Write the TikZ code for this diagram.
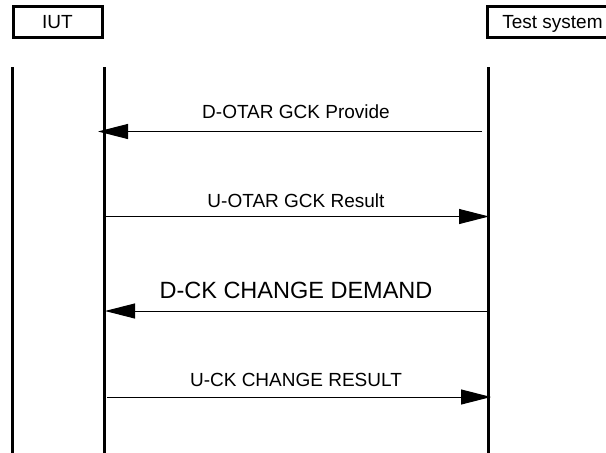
\documentclass[tikz,border=0pt]{standalone}
\usepackage{fontspec}
\setmainfont{Liberation Sans}
\usetikzlibrary{arrows.meta}
\begin{document}
\begin{tikzpicture}[x=1pt,y=-1pt,
  entity/.style={draw, line width=3pt, inner sep=0pt, minimum height=31pt,
    text height=13.6pt, text depth=0pt, font=\fontsize{19}{22}\selectfont},
  lifeline/.style={line width=3pt},
  msg/.style={-{Triangle[length=30pt,width=15pt]}, line width=1pt},
  label/.style={anchor=base, font=\fontsize{19}{22}\selectfont}]
\useasboundingbox (0,0) rectangle (606,453);
\node (iut) [entity, minimum width=89pt] at (57.5,21.5) {IUT};
\node (ts) [entity, minimum width=131pt] at (552.5,21.5) {Test system};
% lifelines
\coordinate (a0) at (12,67);  \coordinate (a1) at (12,460);
\coordinate (b0) at (104,67); \coordinate (b1) at (104,460);
\coordinate (c0) at (488,67); \coordinate (c1) at (488,460);
\draw[lifeline] (a0) -- (a1);
\draw[lifeline] (b0) -- (b1);
\draw[lifeline] (c0) -- (c1);
% messages
\coordinate (s1) at (482,131.5); \coordinate (e1) at (98,131.5);
\coordinate (s2) at (104,216.5); \coordinate (e2) at (489,216.5);
\coordinate (s3) at (489,311);   \coordinate (e3) at (105,311);
\coordinate (s4) at (107,397);   \coordinate (e4) at (491,397);
\draw[msg] (s1) -- (e1);
\draw[msg] (s2) -- (e2);
\draw[msg] (s3) -- (e3);
\draw[msg] (s4) -- (e4);
\node (m1) [label] at (296,118) {D-OTAR GCK Provide};
\node (m2) [label] at (296,207) {U-OTAR GCK Result};
\node (m3) [label, font=\fontsize{23.5}{27}\selectfont] at (296,298) {D-CK CHANGE DEMAND};
\node (m4) [label] at (296,386) {U-CK CHANGE RESULT};
\end{tikzpicture}
\end{document}
